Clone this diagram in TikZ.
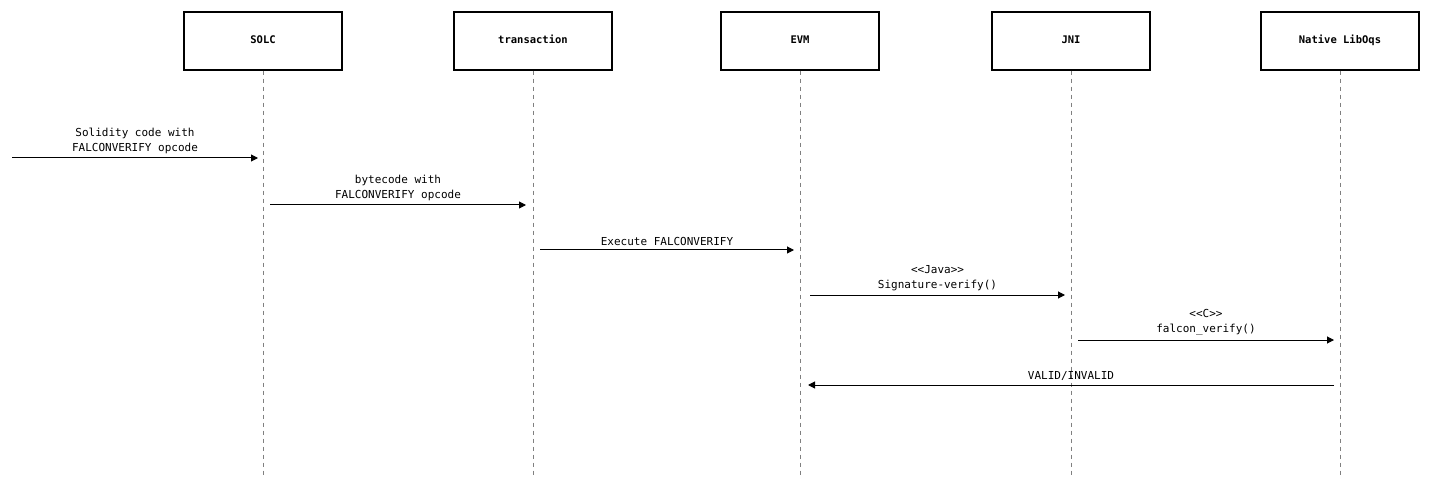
\documentclass[tikz,border=0pt]{standalone}
\usepackage{fontspec}
\setmonofont{DejaVu Sans Mono}
\usetikzlibrary{arrows.meta}
\begin{document}
\begin{tikzpicture}[x=1pt,y=-1pt,font=\ttfamily\fontsize{11}{15}\selectfont,
 part/.style={draw,line width=1.2pt,minimum width=158pt,minimum height=58pt,text height=8pt,text depth=2pt,font=\ttfamily\bfseries\fontsize{10.5}{13}\selectfont},
 life/.style={dashed,gray,line width=0.7pt,dash pattern=on 4pt off 4pt},
 msg/.style={-{Triangle[length=7pt,width=7pt]},line width=1pt},
 lbl/.style={align=center,above,inner sep=4pt}]
\useasboundingbox (0,0) rectangle (1454,489);
\foreach \n/\x/\t in {s/263/SOLC,t/533/transaction,e/800/EVM,j/1071/JNI,n/1340/Native LibOqs}{
 \node[part] (\n) at (\x,41) {\t};
 \coordinate (\n b) at (\x,475);
 \draw[life] (\n) -- (\n b);
}
\coordinate (start) at (12,158);
\coordinate (s1) at (258,158);
\draw[msg] (start) -- node[lbl]{Solidity code with\\FALCONVERIFY opcode} (s1);
\coordinate (a2) at (270,205); \coordinate (b2) at (526,205);
\draw[msg] (a2) -- node[lbl]{bytecode with\\FALCONVERIFY opcode} (b2);
\coordinate (a3) at (540,250); \coordinate (b3) at (794,250);
\draw[msg] (a3) -- node[lbl]{Execute FALCONVERIFY} (b3);
\coordinate (a4) at (810,295); \coordinate (b4) at (1065,295);
\draw[msg] (a4) -- node[lbl]{<{}<Java>{}>\\Signature-verify()} (b4);
\coordinate (a5) at (1078,340); \coordinate (b5) at (1334,340);
\draw[msg] (a5) -- node[lbl]{<{}<C>{}>\\falcon\_verify()} (b5);
\coordinate (a6) at (1334,385); \coordinate (b6) at (808,385);
\draw[msg] (a6) -- node[lbl]{VALID/INVALID} (b6);
\end{tikzpicture}
\end{document}
